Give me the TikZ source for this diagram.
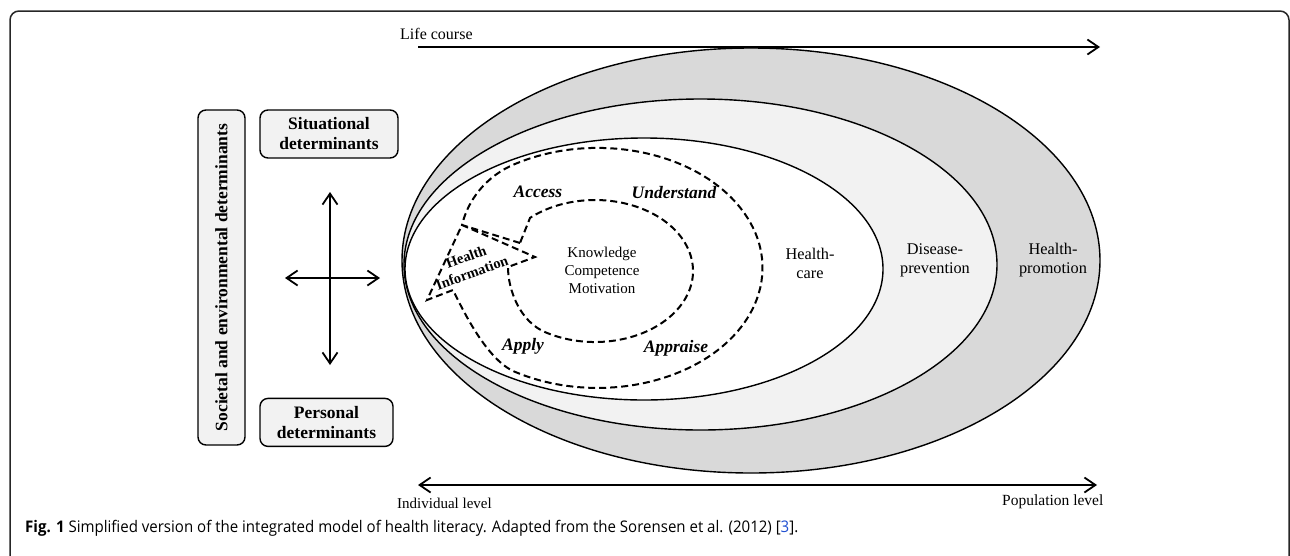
\documentclass[tikz,border=0pt]{standalone}
\usepackage{fontspec}
\setmainfont{Liberation Serif}
\newfontfamily\capfont[FakeStretch=0.94]{Open Sans}
\usepackage{xcolor}
\usepackage{tikz}
\usetikzlibrary{arrows.meta, positioning}
\definecolor{promogray}{HTML}{D9D9D9}
\definecolor{prevgray}{HTML}{F2F2F2}
\definecolor{boxgray}{HTML}{F2F2F2}
\definecolor{framegray}{HTML}{262626}
\definecolor{linkblue}{HTML}{1F4FD0}

\begin{document}
\begin{tikzpicture}[
    x=1pt, y=-1pt,
    every node/.style={inner sep=0pt},
    box/.style={
        rectangle,
        rounded corners=8pt,
        draw=black,
        fill=boxgray,
        line width=1.4pt,
        minimum height=48pt,
        text centered,
        align=center,
        font=\bfseries\fontsize{17.5}{20}\selectfont
    },
    ring/.style={
        draw=black,
        line width=1.4pt
    },
    dashline/.style={
        draw=black,
        line width=2pt,
        dash pattern=on 7pt off 4pt
    },
    twoway/.style={
        <->,
        >={Straight Barb[length=11pt,width=15pt]},
        line width=1.8pt
    },
    oneway/.style={
        ->,
        >={Straight Barb[length=11pt,width=15pt]},
        line width=1.8pt
    },
    skill/.style={font=\bfseries\itshape\fontsize{17.5}{20}\selectfont},
    level/.style={font=\fontsize{16.3}{19}\selectfont, align=center}
]
\useasboundingbox (0,0) rectangle (1290,555);

% Frame
\draw[framegray, line width=1.5pt, rounded corners=9pt] (10,11) rectangle (1289,575);

% Nested settings
\draw[ring, fill=promogray] (751,260.5) ellipse [x radius=349, y radius=212.5];
\draw[ring, fill=prevgray] (700.5,264.5) ellipse [x radius=296.5, y radius=165.5];
\draw[ring, fill=white] (644,269) ellipse [x radius=239, y radius=131];

\node[level] (care) at (810,263) {Health-\\care};
\node[level] (prevention) at (935,260) {Disease-\\prevention};
\node[level] (promotion) at (1053,260) {Health-\\promotion};

% Health information cycle
\draw[dashline] (520,243) -- (462,225)
    .. controls (468,200) and (486,176) .. (515,164)
    arc[start angle=240, end angle=480, x radius=165, y radius=120]
    .. controls (486,360) and (461,306) .. (453,290)
    -- (427,300) -- (462,225) -- (535,257) -- (508,267)
    .. controls (508,290) and (520,322) .. (546,332.5)
    arc[start angle=120, end angle=-131.5, x radius=98, y radius=71]
    -- cycle;

\node[font=\fontsize{15}{18}\selectfont, align=center] (core) at (602,270) {Knowledge\\Competence\\Motivation};
\node[font=\bfseries\fontsize{14.5}{17}\selectfont, align=center, rotate=20] (info) at (469,265) {Health\\Information};

\node[skill] (access) at (538,192) {Access};
\node[skill] (understand) at (674,193) {Understand};
\node[skill] (apply) at (523,346) {Apply};
\node[skill] (appraise) at (676,348) {Appraise};

% Determinants
\node[box, minimum width=335pt, minimum height=47pt, rotate=90] (societal) at (221.5,277.5) {Societal and environmental determinants};
\node[box, minimum width=138pt] (situational) at (329,134) {Situational\\determinants};
\node[box, minimum width=133pt, below=239pt of situational, xshift=-2.5pt] (personal) {Personal\\determinants};

\coordinate (crosstop) at (330,192);
\coordinate (crossbot) at (330,365);
\coordinate (crossleft) at (285,278);
\coordinate (crossright) at (380,278);
\draw[twoway] (crosstop) -- (crossbot);
\draw[twoway] (crossleft) -- (crossright);

% Life course
\coordinate (lifestart) at (418,47);
\coordinate (lifeend) at (1100,47);
\draw[oneway] (lifestart) -- (lifeend);
\node[anchor=base west, font=\fontsize{16}{19}\selectfont] (life) at (400,39) {Life course};

% Levels
\coordinate (indiv) at (418,485);
\coordinate (popul) at (1097,485);
\draw[twoway] (indiv) -- (popul);
\node[anchor=base west, font=\fontsize{15}{18}\selectfont] (individual) at (397,508) {Individual level};
\node[anchor=base west, font=\fontsize{15.5}{18}\selectfont] (population) at (1002,505) {Population level};

% Caption
\node[anchor=base west, font=\capfont\fontsize{16}{18}\selectfont] (caption) at (25,532) {\textbf{Fig. 1} Simplified version of the integrated model of health literacy. Adapted from the Sorensen et al. (2012) [\textcolor{linkblue}{3}].};

\end{tikzpicture}
\end{document}
